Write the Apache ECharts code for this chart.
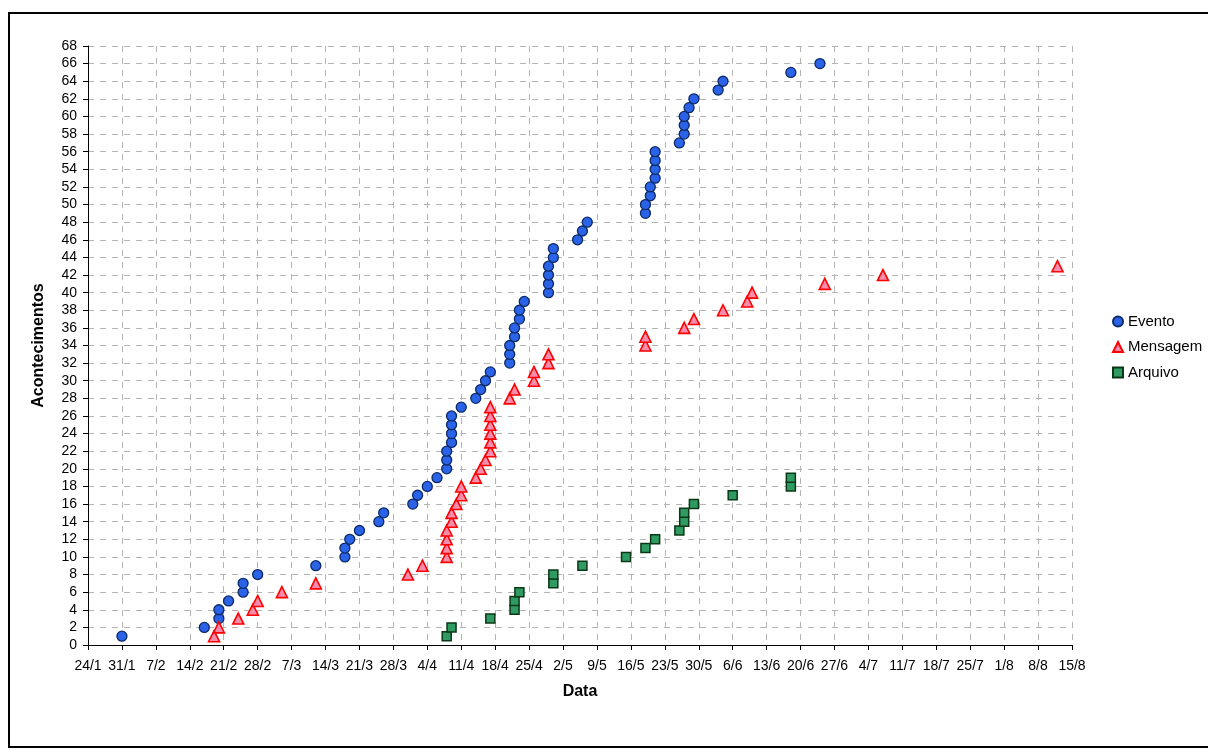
<!DOCTYPE html>
<html>
<head>
<meta charset="utf-8">
<script src="https://cdn.jsdelivr.net/npm/echarts@6/dist/echarts.min.js"></script>
<style>
html,body{margin:0;padding:0;background:#fff;overflow:hidden;}
#frame{position:absolute;left:8px;top:12px;width:1220px;height:736px;border:2px solid #000;box-sizing:border-box;}
#chart{position:absolute;left:0;top:0;width:1208px;height:754px;}
</style>
</head>
<body>
<div id="frame"></div>
<div id="chart"></div>
<script>
// Tick labels (weekly from 24/1 to 15/8)
const xTickLabels = ['24/1','31/1','7/2','14/2','21/2','28/2','7/3','14/3','21/3','28/3','4/4','11/4','18/4','25/4','2/5','9/5','16/5','23/5','30/5','6/6','13/6','20/6','27/6','4/7','11/7','18/7','25/7','1/8','8/8','15/8'];

// Evento
const eventoDates = ['31/1','17/2','20/2','20/2','22/2','25/2','25/2','28/2','12/3','18/3','18/3','19/3','21/3','25/3','26/3','1/4','2/4','4/4','6/4','8/4','8/4','8/4','9/4','9/4','9/4','9/4','11/4','14/4','15/4','16/4','17/4','21/4','21/4','21/4','22/4','22/4','23/4','23/4','24/4','29/4','29/4','29/4','29/4','30/4','30/4','5/5','6/5','7/5','19/5','19/5','20/5','20/5','21/5','21/5','21/5','21/5','26/5','27/5','27/5','27/5','28/5','29/5','3/6','4/6','18/6','24/6'];
const eventoCounts = [1,2,3,4,5,6,7,8,9,10,11,12,13,14,15,16,17,18,19,20,21,22,23,24,25,26,27,28,29,30,31,32,33,34,35,36,37,38,39,40,41,42,43,44,45,46,47,48,49,50,51,52,53,54,55,56,57,58,59,60,61,62,63,64,65,66];

// Mensagem
const mensagemDates = ['19/2','20/2','24/2','27/2','28/2','5/3','12/3','31/3','3/4','8/4','8/4','8/4','8/4','9/4','9/4','10/4','11/4','11/4','14/4','15/4','16/4','17/4','17/4','17/4','17/4','17/4','17/4','21/4','22/4','26/4','26/4','29/4','29/4','19/5','19/5','27/5','29/5','4/6','9/6','10/6','25/6','7/7','12/8'];
const mensagemCounts = [1,2,3,4,5,6,7,8,9,10,11,12,13,14,15,16,17,18,19,20,21,22,23,24,25,26,27,28,29,30,31,32,33,34,35,36,37,38,39,40,41,42,43];

// Arquivo
const arquivoDates = ['8/4','9/4','17/4','22/4','22/4','23/4','30/4','30/4','6/5','15/5','19/5','21/5','26/5','27/5','27/5','29/5','6/6','18/6','18/6'];
const arquivoCounts = [1,2,3,4,5,6,7,8,9,10,11,12,13,14,15,16,17,18,19];

const YEAR = 2005;
const BASE = Date.UTC(YEAR, 0, 24);
function dayOf(s){
  const p = s.split('/');
  return Math.round((Date.UTC(YEAR, +p[1]-1, +p[0]) - BASE) / 86400000);
}
function pairs(dates, counts){
  return dates.map((d,i)=>[dayOf(d), counts[i]]);
}
const lastDay = dayOf(xTickLabels[xTickLabels.length-1]);

const chart = echarts.init(document.getElementById('chart'), null, {renderer:'canvas'});
const font = 'Liberation Sans, Arial, sans-serif';
const gridLine = {show:true, lineStyle:{color:'#b4b4b4', type:[6,6], width:1}};

chart.setOption({
  animation:false,
  textStyle:{fontFamily:font},
  grid:{left:88, top:46, right:136, bottom:109, containLabel:false},
  legend:{
    orient:'vertical', left:1107, top:309, itemGap:10.5,
    itemWidth:10, itemHeight:10,
    textStyle:{fontFamily:font, fontSize:15, color:'#000'},
    data:['Evento','Mensagem','Arquivo']
  },
  xAxis:{
    type:'value', min:0, max:lastDay, interval:7,
    name:'Data', nameLocation:'middle', nameGap:39,
    nameTextStyle:{fontFamily:font, fontSize:16, fontWeight:'bold', color:'#000'},
    axisLine:{show:true, lineStyle:{color:'#000', width:1}},
    axisTick:{show:true, length:5, lineStyle:{color:'#000'}},
    axisLabel:{fontFamily:font, fontSize:14, color:'#000', margin:14,
      formatter:(v)=>xTickLabels[Math.round(v/7)] || ''},
    splitLine:gridLine
  },
  yAxis:{
    type:'value', min:0, max:68, interval:2,
    name:'Acontecimentos', nameLocation:'middle', nameGap:41, nameRotate:90,
    nameTextStyle:{fontFamily:font, fontSize:16, fontWeight:'bold', color:'#000'},
    axisLine:{show:true, lineStyle:{color:'#000', width:1}},
    axisTick:{show:true, length:5, lineStyle:{color:'#000'}},
    axisLabel:{fontFamily:font, fontSize:14, color:'#000', margin:11},
    splitLine:gridLine
  },
  series:[
    {name:'Evento', type:'scatter', symbol:'circle', symbolSize:10,
      itemStyle:{color:'#2b63e8', borderColor:'#0c2a66', borderWidth:1.3, opacity:1},
      data:pairs(eventoDates, eventoCounts)},
    {name:'Mensagem', type:'scatter', symbol:'triangle', symbolSize:11,
      itemStyle:{color:'#f78cac', borderColor:'#ff0000', borderWidth:1.6, opacity:1},
      data:pairs(mensagemDates, mensagemCounts)},
    {name:'Arquivo', type:'scatter', symbol:'rect', symbolSize:9,
      itemStyle:{color:'#2f9a62', borderColor:'#0a3816', borderWidth:1.5, opacity:1},
      data:pairs(arquivoDates, arquivoCounts)}
  ]
});
</script>
</body>
</html>
